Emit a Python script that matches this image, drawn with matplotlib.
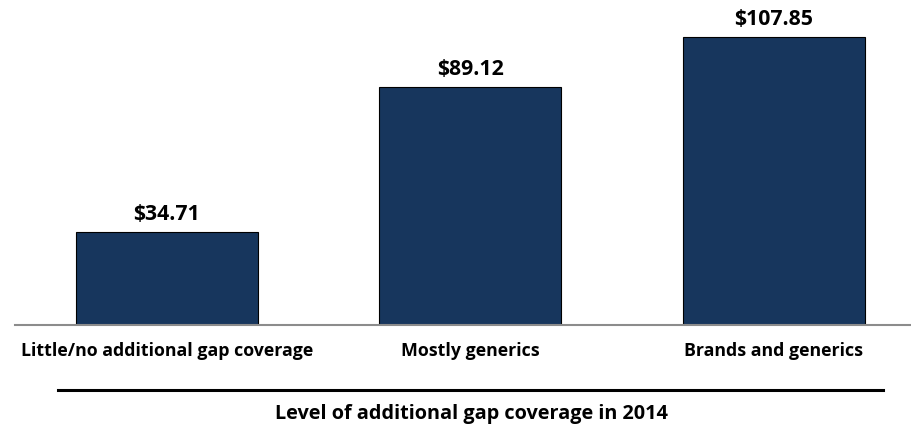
import matplotlib.pyplot as plt
from matplotlib.lines import Line2D

categories = ["Little/no additional gap coverage", "Mostly generics", "Brands and generics"]
values = [34.71, 89.12, 107.85]
value_labels = ["$34.71", "$89.12", "$107.85"]

BAR_COLOR = "#17365D"
FONT = "Open Sans"

W, H = 912, 428
fig = plt.figure(figsize=(W / 100, H / 100), dpi=100)

# axes: baseline at y=325 px, left edge at x=15 px, runs to right edge
ax = fig.add_axes([15 / W, (H - 325) / H, (W - 15) / W, 325 / H])
x = range(len(categories))
bars = ax.bar(x, values, width=0.6, color=BAR_COLOR, edgecolor="black", linewidth=0.8)

ax.set_xlim(-0.5, 2.455)
ax.set_ylim(0, 121.7)

for b, lab in zip(bars, value_labels):
    ax.annotate(lab, (b.get_x() + b.get_width() / 2, b.get_height()),
                xytext=(0, 5), textcoords="offset points", ha="center", va="bottom",
                fontsize=15.3, fontweight="bold", family=FONT, color="black")

for s in ["top", "right", "left"]:
    ax.spines[s].set_visible(False)
ax.spines["bottom"].set_color("#8c8c8c")
ax.spines["bottom"].set_linewidth(1.5)
ax.set_yticks([])
ax.set_xticks(list(x))
ax.set_xticklabels(categories, fontsize=12.8, fontweight="bold", family=FONT)
ax.tick_params(axis="x", length=0, pad=12)

# separator line and axis title under the categories
fig.add_artist(Line2D([58 / W, 883 / W], [(H - 390) / H, (H - 390) / H],
                      color="black", linewidth=2.2))
fig.text(471 / W, (H - 414) / H, "Level of additional gap coverage in 2014",
         ha="center", va="center", fontsize=14.3, fontweight="bold", family=FONT)

fig.savefig("out.png", dpi=100)
